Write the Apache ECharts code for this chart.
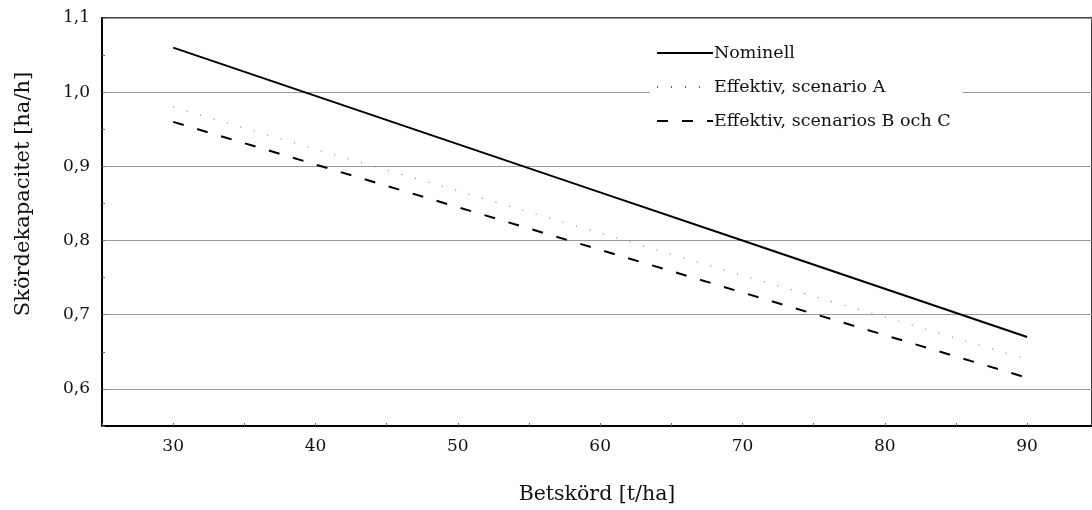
<!DOCTYPE html>
<html><head><meta charset="utf-8">
<script src="https://cdn.jsdelivr.net/npm/echarts@6/dist/echarts.min.js"></script>
<style>html,body{margin:0;padding:0;background:#fff}#c{width:1092px;height:510px}</style>
</head><body><div id="c"></div>
<script>
const xValues = [30, 40, 50, 60, 70, 80, 90];
const nominell = [1.06, 0.995, 0.93, 0.865, 0.80, 0.735, 0.67];
const effektivA = [0.98, 0.923, 0.867, 0.81, 0.753, 0.697, 0.64];
const effektivBC = [0.96, 0.9025, 0.845, 0.7875, 0.73, 0.6725, 0.615];
const seriesNames = ['Nominell', 'Effektiv, scenario A', 'Effektiv, scenarios B och C'];
const xName = 'Betskörd [t/ha]';
const yName = 'Skördekapacitet [ha/h]';

const FONT = 'DejaVu Serif';
const pairs = arr => xValues.map((x, i) => [x, arr[i]]);
const chart = echarts.init(document.getElementById('c'), null, {renderer: 'canvas'});
chart.setOption({
  animation: false,
  backgroundColor: '#fff',
  textStyle: {fontFamily: FONT, color: '#000'},
  grid: {left: 102, right: -2, top: 18, bottom: 83, show: true, borderColor: '#000', borderWidth: 1.5, backgroundColor: 'transparent'},
  legend: {
    orient: 'vertical', left: 650, top: 38, itemWidth: 56, itemHeight: 16, itemGap: 16,
    backgroundColor: '#fff', padding: [6, 12, 6, 6],
    itemStyle: {opacity: 0},
    textStyle: {fontFamily: FONT, fontSize: 17.5, color: '#111', padding: [0, 0, 0, -4]},
    data: seriesNames
  },
  xAxis: {
    type: 'value', min: 25, max: 94.56, interval: 5,
    name: xName, nameLocation: 'middle', nameGap: 58,
    nameTextStyle: {fontFamily: FONT, fontSize: 20.5, color: '#111'},
    axisLine: {show: true, lineStyle: {color: '#000', width: 2}},
    axisTick: {show: true, inside: true, length: 3, lineStyle: {color: '#666'}},
    axisLabel: {fontFamily: FONT, fontSize: 17, color: '#111', margin: 12, showMaxLabel: false,
      formatter: v => (Math.round(v) % 10 === 0 ? String(Math.round(v)) : '')},
    splitLine: {show: false}
  },
  yAxis: {
    type: 'value', min: 0.55, max: 1.1, interval: 0.05,
    name: yName, nameLocation: 'middle', nameGap: 68, nameRotate: 90,
    nameTextStyle: {fontFamily: FONT, fontSize: 21, color: '#111', padding: [0, 0, 0, 56]},
    axisLine: {show: true, lineStyle: {color: '#000', width: 2}},
    axisTick: {show: true, inside: true, length: 3, lineStyle: {color: '#666'}},
    axisLabel: {fontFamily: FONT, fontSize: 17, color: '#111', margin: 12,
      formatter: v => (Math.round(v * 100) % 10 === 0 ? v.toFixed(1).replace('.', ',') : '')},
    splitLine: {show: true, lineStyle: {color: ['rgba(0,0,0,0)', '#9a9a9a'], width: 1}}
  },
  series: [
    {name: seriesNames[0], type: 'line', data: pairs(nominell), symbol: 'none',
     lineStyle: {color: '#000', width: 2, type: 'solid'}, itemStyle: {color: '#000'}},
    {name: seriesNames[1], type: 'line', data: pairs(effektivA), symbol: 'none',
     lineStyle: {color: '#666', width: 1, type: [1, 13]}, itemStyle: {color: '#666'}},
    {name: seriesNames[2], type: 'line', data: pairs(effektivBC), symbol: 'none',
     lineStyle: {color: '#000', width: 2, type: [11, 14]}, itemStyle: {color: '#000'}}
  ]
});
</script></body></html>
